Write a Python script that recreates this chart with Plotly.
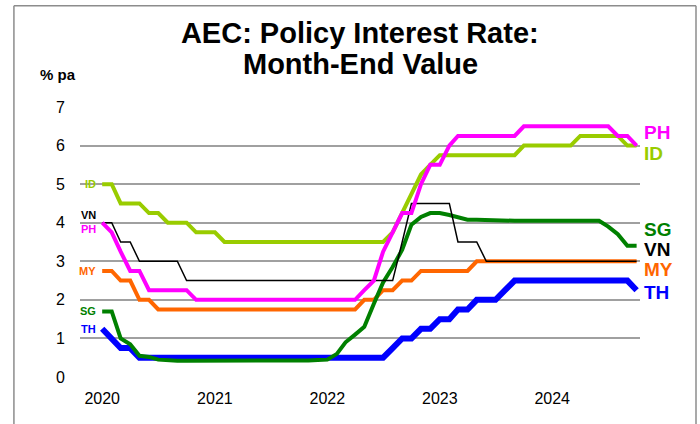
import plotly.graph_objects as go
import pandas as pd

# month-start dates, Jan 2020 .. Oct 2024
months = pd.date_range("2020-01-01", "2024-10-01", freq="MS")

ph = ([4.0, 3.75, 3.25, 2.75, 2.75, 2.25, 2.25, 2.25, 2.25, 2.25, 2.0, 2.0]
      + [2.0] * 12
      + [2.0, 2.0, 2.0, 2.0, 2.25, 2.5, 3.25, 3.75, 4.25, 4.25, 5.0, 5.5]
      + [5.5, 6.0, 6.25, 6.25, 6.25, 6.25, 6.25, 6.25, 6.25, 6.5, 6.5, 6.5]
      + [6.5, 6.5, 6.5, 6.5, 6.5, 6.5, 6.5, 6.25, 6.25, 6.0])

idn = ([5.0, 5.0, 4.5, 4.5, 4.5, 4.25, 4.25, 4.0, 4.0, 4.0, 3.75, 3.75]
       + [3.75] + [3.5] * 11
       + [3.5] * 7 + [3.75, 4.25, 4.75, 5.25, 5.5]
       + [5.75] * 9 + [6.0, 6.0, 6.0]
       + [6.0, 6.0, 6.0, 6.25, 6.25, 6.25, 6.25, 6.25, 6.0, 6.0])

sg = ([1.7, 1.7, 1.0, 0.85, 0.55, 0.52, 0.45, 0.43, 0.42, 0.42, 0.42, 0.42]
      + [0.41, 0.41, 0.42, 0.42, 0.43, 0.43, 0.43, 0.43, 0.43, 0.43, 0.43, 0.44]
      + [0.45, 0.6, 0.9, 1.1, 1.3, 1.9, 2.45, 2.85, 3.3, 3.95, 4.15, 4.25]
      + [4.25, 4.2, 4.15, 4.08, 4.08, 4.07, 4.05, 4.05, 4.05, 4.05, 4.05, 4.05]
      + [4.05, 4.05, 4.05, 4.05, 4.05, 4.05, 3.9, 3.7, 3.4, 3.4])

vn = ([4.0, 4.0, 3.5, 3.5, 3.0, 3.0, 3.0, 3.0, 3.0, 2.5, 2.5, 2.5]
      + [2.5] * 12
      + [2.5] * 8 + [3.5, 4.5, 4.5, 4.5]
      + [4.5, 4.5, 3.5, 3.5, 3.5] + [3.0] * 7
      + [3.0] * 10)

my = ([2.75, 2.75, 2.5, 2.5, 2.0, 2.0] + [1.75] * 6
      + [1.75] * 12
      + [1.75] * 4 + [2.0, 2.0, 2.25, 2.25, 2.5, 2.5, 2.75, 2.75]
      + [2.75] * 4 + [3.0] * 8
      + [3.0] * 10)

th = ([1.25, 1.0, 0.75, 0.75] + [0.5] * 8
      + [0.5] * 12
      + [0.5] * 7 + [0.75, 1.0, 1.0, 1.25, 1.25]
      + [1.5, 1.5, 1.75, 1.75, 2.0, 2.0, 2.0, 2.25, 2.5, 2.5, 2.5, 2.5]
      + [2.5] * 9 + [2.25])

# name, values, colour, width, start-label y, end-label y
series = [
    ("ID", idn, "#99CC00", 4, 5.0, 5.8),
    ("VN", vn, "#000000", 1.5, 4.2, 3.3),
    ("PH", ph, "#FF00FF", 4, 3.85, 6.33),
    ("MY", my, "#FF6600", 4, 2.75, 2.78),
    ("SG", sg, "#008000", 4, 1.7, 3.82),
    ("TH", th, "#0000FF", 6, 1.25, 2.2),
]
draw_order = ["MY", "TH", "SG", "VN", "ID", "PH"]

fig = go.Figure()
annotations = []
lookup = {s[0]: s for s in series}
for key in draw_order:
    name, vals, color, width, y0, y1 = lookup[key]
    fig.add_trace(go.Scatter(x=months, y=vals, mode="lines", name=name,
                             line=dict(color=color, width=width),
                             showlegend=False, hoverinfo="x+y+name"))
for name, vals, color, width, y0, y1 in series:
    annotations.append(dict(x=months[0], y=y0, xref="x", yref="y", text=f"<b>{name}</b>",
                            showarrow=False, xanchor="right", xshift=-4,
                            font=dict(size=11, color=color)))
    annotations.append(dict(x=1.003, y=y1, xref="paper", yref="y", text=f"<b>{name}</b>",
                            showarrow=False, xanchor="left",
                            font=dict(size=19, color=color)))

annotations.append(dict(x=-0.075, y=1.12, xref="paper", yref="paper", text="<b>% pa</b>",
                        showarrow=False, xanchor="left", yanchor="middle",
                        font=dict(size=15, color="black")))
# second title line, set separately to keep the tighter line spacing
annotations.append(dict(x=0.5, y=1.16, xref="paper", yref="paper",
                        text="<b>Month-End Value</b>", showarrow=False,
                        xanchor="center", yanchor="middle",
                        font=dict(size=29, color="black")))

frame = dict(color="#8C8C8C", width=1.5)

fig.update_layout(
    title=dict(text="<b>AEC: Policy Interest Rate:</b>",
               x=0.514, xanchor="center", y=0.922, yanchor="middle",
               font=dict(size=29, color="black")),
    width=700, height=424,
    margin=dict(l=80, r=60, t=107, b=47),
    plot_bgcolor="white", paper_bgcolor="white",
    font=dict(family="Liberation Sans, Arial, sans-serif", color="black"),
    xaxis=dict(range=["2019-10-21", "2024-10-12"], tickformat="%Y", dtick="M12",
               tick0="2020-01-01", showgrid=False, zeroline=False, showline=False,
               ticks="", tickfont=dict(size=16), ticklabelstandoff=10),
    yaxis=dict(range=[0, 7], dtick=1, showgrid=True, gridcolor="#A0A0A0", gridwidth=1.5,
               zeroline=False, showline=False, ticks="", tickfont=dict(size=16),
               ticklabelstandoff=14),
    annotations=annotations,
    shapes=[
        dict(type="line", xref="paper", yref="paper", x0=-0.118, x1=-0.118, y0=-0.2, y1=1.375, line=frame),
        dict(type="line", xref="paper", yref="paper", x0=1.1, x1=1.1, y0=-0.2, y1=1.375, line=frame),
        dict(type="line", xref="paper", yref="paper", x0=-0.118, x1=1.1, y0=1.375, y1=1.375, line=frame),
    ],
)

# drop the page's default body margin so the figure sits at the window's corner
fig.write_html("out.html", config={"displayModeBar": False},
               post_script="document.body.style.margin='0';")
